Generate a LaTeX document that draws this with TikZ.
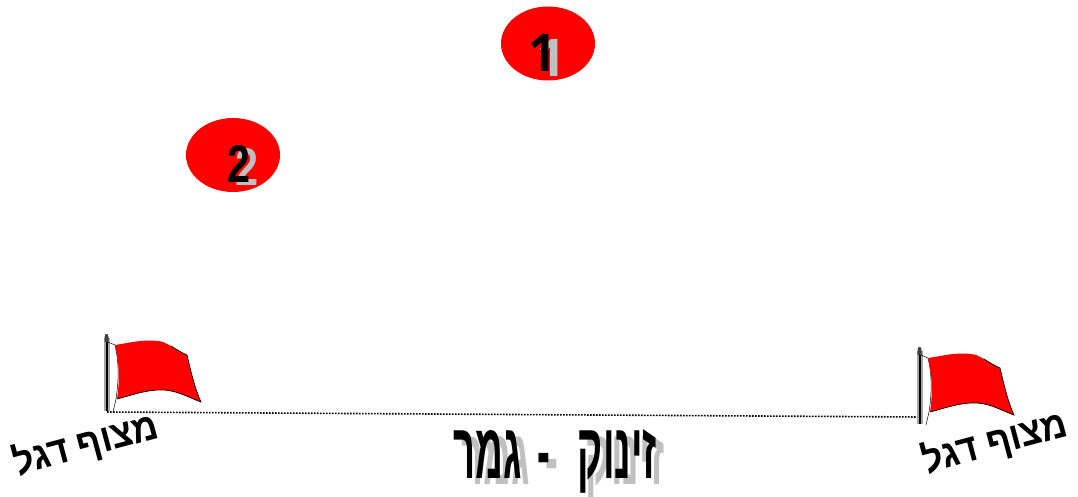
\documentclass[tikz,border=0pt]{standalone}
\usetikzlibrary{shapes.geometric}
\usepackage{graphicx}
\usepackage{fontspec}
\setmainfont{Liberation Sans}
\TeXXeTstate=1
\newfontfamily\hebfont[Script=Hebrew]{Liberation Sans}
\newfontfamily\onefont{Open Sans}
\definecolor{shade}{RGB}{192,192,192}
\newcommand{\shtext}[4]{\scalebox{#1}[#2]{\fontsize{#3}{#3}\selectfont\bfseries\hebfont #4}}
\newcommand{\titletext}{\shtext{0.62}{1.27}{62}{\beginR זינוק\hspace{44pt}-\hspace{26pt}גמר\endR}}
\newcommand{\flaglabel}{\shtext{0.97}{1.05}{37}{\beginR מצוף דגל\endR}}
\newcommand{\digitone}{\scalebox{0.95}[1]{\fontsize{52}{52}\selectfont\bfseries\onefont 1}}
\newcommand{\digittwo}{\scalebox{0.78}[1]{\fontsize{53}{53}\selectfont\bfseries 2}}
\tikzset{
  disc/.style={ellipse,fill=red,draw=none,minimum width=94pt,minimum height=74pt,inner sep=0pt},
  txt/.style={inner sep=0pt,outer sep=0pt},
  flagpic/.pic={
    \fill[black!35] (-3,4) rectangle (2.5,77);
    \fill[black] (-1,4) rectangle (1.2,77);
    \fill[black!75] (-2.5,8) -- (-2.5,3) -- (-1.5,0) -- (0.5,0) -- (1.5,3) -- (1.5,8) -- cycle;
    \draw[black,line width=0.5pt] (1,8) -- (8,11) .. controls (12,28) and (12,45) .. (9,65) -- (6,78);
    \fill[red] (8,11) .. controls (22,9) and (40,4) .. (56,8) .. controls (65,12) and (72,17) .. (80,21)
       .. controls (84,38) and (88,55) .. (94,68) .. controls (78,62) and (68,55) .. (50,56) .. controls (35,57) and (22,62) .. (10,65)
       .. controls (13,45) and (12,28) .. (8,11) -- cycle;
    \draw[black,line width=0.7pt] (64,12) .. controls (70,16) and (75,19) .. (80,21)
       .. controls (84,38) and (88,55) .. (94,68) .. controls (78,62) and (68,55) .. (50,56) .. controls (35,57) and (22,62) .. (10,65);
  }
}
\begin{document}
\begin{tikzpicture}[x=1pt,y=-1pt]
\useasboundingbox (0,0) rectangle (1078,497);
% discs
\node[disc] (d1) at (548,43.5) {};
\node[disc] (d2) at (233,155) {};
\node[txt,text=shade] (n1s) at (552,58) {\digitone};
\node[txt] (n1) at (543,53) {\digitone};
\node[txt,text=shade] (n2s) at (247,167) {\digittwo};
\node[txt] (n2) at (239,164) {\digittwo};
% flags
\coordinate (p1) at (107,412);
\coordinate (p2) at (920,417);
\draw[black,line width=1.6pt,dash pattern=on 1.6pt off 1.4pt] (p1) -- (p2);
\pic at (107,334) {flagpic};
\pic at (920,347) {flagpic};
% labels
\node[txt,rotate=15] (l1) at (86,445) {\flaglabel};
\node[txt,rotate=15] (l2) at (995,443) {\flaglabel};
\node[txt,text=shade] (t1s) at (563,467) {\titletext};
\node[txt] (t1) at (555,461) {\titletext};
\end{tikzpicture}
\end{document}
